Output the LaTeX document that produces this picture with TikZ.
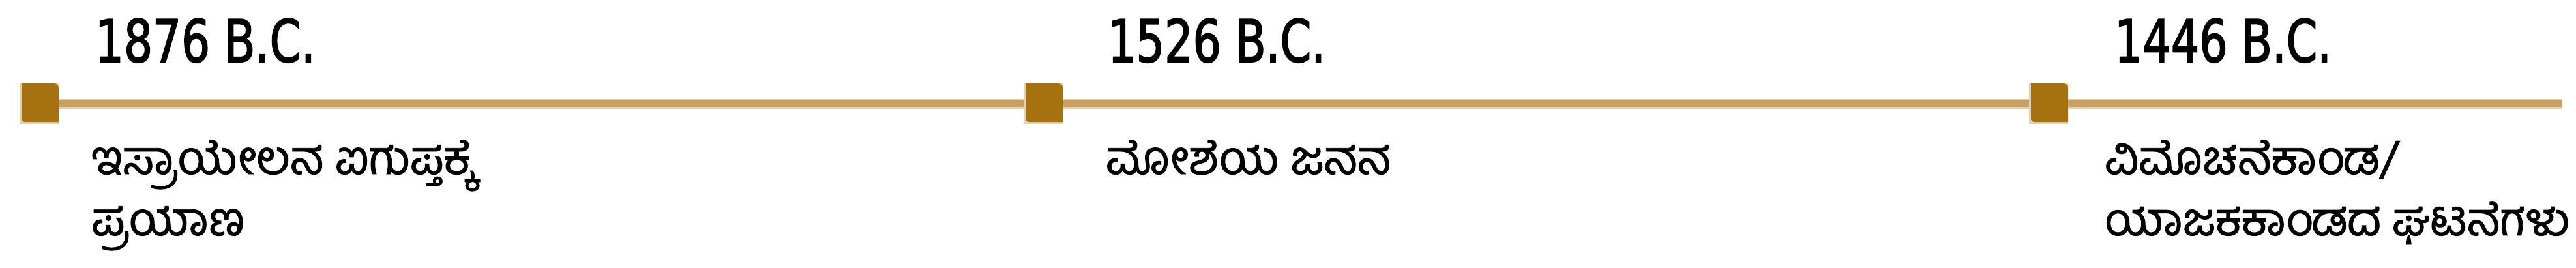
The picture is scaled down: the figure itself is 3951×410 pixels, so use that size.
\documentclass[tikz,border=0pt]{standalone}
\usepackage{fontspec}
\usetikzlibrary{calc}
\newfontfamily\datefont[FakeBold=2]{DejaVu Sans Condensed}
\newfontfamily\kanfont[Script=Kannada, FakeBold=1.2]{Hind Mysuru}
\definecolor{linetan}{HTML}{C9A063}
\definecolor{lineedge}{HTML}{E6D0AE}
\definecolor{markgold}{HTML}{A6720F}
\newcommand{\datelbl}[2]{\resizebox{#1pt}{67pt}{\datefont #2}}
\tikzset{
  marker/.style={rectangle, inner sep=0pt, minimum width=60pt, minimum height=62pt,
    path picture={
      \fill[lineedge] (path picture bounding box.south west) rectangle (path picture bounding box.north east);
      \fill[markgold] ($(path picture bounding box.north west)+(3pt,0pt)$)
        -- ($(path picture bounding box.north east)+(-7pt,0pt)$)
        .. controls ($(path picture bounding box.north east)+(-3pt,0pt)$) and ($(path picture bounding box.north east)+(0pt,-3pt)$) ..
        ($(path picture bounding box.north east)+(0pt,-7pt)$)
        -- ($(path picture bounding box.south east)+(0pt,3pt)$)
        -- ($(path picture bounding box.south west)+(9pt,3pt)$)
        .. controls ($(path picture bounding box.south west)+(5pt,3pt)$) and ($(path picture bounding box.south west)+(3pt,5pt)$) ..
        ($(path picture bounding box.south west)+(3pt,9pt)$)
        -- cycle;
    }},
  timeline/.style={line width=15pt, lineedge},
  timecore/.style={line width=10pt, linetan},
  datenode/.style={anchor=base west, inner sep=0pt, outer sep=0pt},
  kannode/.style={anchor=base west, inner sep=0pt, outer sep=0pt, font=\kanfont\fontsize{72}{86}\selectfont},
}
\begin{document}
\begin{tikzpicture}[x=1pt, y=-1pt]
\useasboundingbox (0,0) rectangle (3951,410);
\node[marker] (m1) at (60,159) {};
\node[marker] (m2) at (1600,159) {};
\node[marker] (m3) at (3142,159) {};
\coordinate (lineend) at (3930,158.5);
\foreach \a/\b in {m1/m2, m2/m3, m3/lineend} {
  \draw[timeline] (\a.east) -- (\b.west |- \a.east);
  \draw[timecore] ($(\a.east)+(0,-0.5)$) -- ($(\b.west |- \a.east)+(0,-0.5)$);
}
\node[datenode] (d1) at (146,95) {\datelbl{338}{1876 B.C.}};
\node[datenode] (d2) at (1699,95) {\datelbl{334}{1526 B.C.}};
\node[datenode] (d3) at (3243,95) {\datelbl{333}{1446 B.C.}};
\node[kannode] (k1a) at (140,267) {ಇಸ್ರಾಯೇಲನ ಐಗುಪ್ತಕ್ಕೆ};
\node[kannode] (k1b) at (140,361) {ಪ್ರಯಾಣ};
\node[kannode] (k2a) at (1696,267) {ಮೋಶೆಯ ಜನನ};
\node[kannode] (k3a) at (3228,267) {ವಿಮೊಚನೆಕಾಂಡ/};
\node[kannode, font=\kanfont\fontsize{70.5}{86}\selectfont] (k3b) at (3228,361) {ಯಾಜಕಕಾಂಡದ ಘಟನೆಗಳು};
\end{tikzpicture}
\end{document}
